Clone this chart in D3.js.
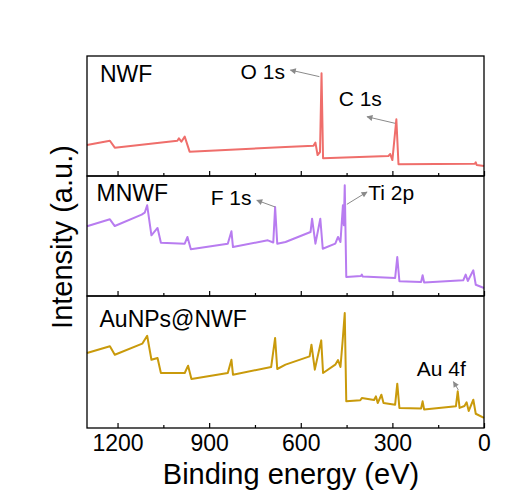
<!DOCTYPE html>
<html>
<head>
<meta charset="utf-8">
<script src="https://cdn.jsdelivr.net/npm/d3@7"></script>
<style>
  body { margin: 0; background: #fff; }
  svg { display: block; font-family: "Liberation Sans", Arial, sans-serif; }
</style>
</head>
<body>
<div id="chart"></div>
<script>
// XPS survey spectra, binding energy (eV) vs intensity (a.u., 0-100 per panel)
const sampleNames = ["NWF", "MNWF", "AuNPs@NWF"];
const sampleColors = ["#ef6e6b", "#b87cf0", "#c99a0b"];
const xTicks = [1200, 900, 600, 300, 0];
const xMinorTicks = [1050, 750, 450, 150];

const energyNWF = [1300,1225,1209,1004,999,991,980,964,650,558,552,545,537,532,527,313,307,300,287,280,30,27,24,0];
const intensityNWF = [25.8,29.4,23.6,29.4,31.4,28.6,32.8,20.3,24.2,25.3,27.8,17.5,20,85.6,14.8,16.7,18.3,13.3,47.3,9.8,10.2,11.4,9.2,8.3];

const energyMNWF = [1300,1225,1209,1121,1111,1103,1089,1069,1058,980,971,960,839,827,822,708,690,684,677,650,568,563,552,536,528,487,478,470,462,459,456,451,403,400,397,291,284,277,206,201,196,68,60,53,35,27,0];
const intensityMNWF = [58.1,63.9,58.3,67.8,69.4,75.6,50.6,56.7,44.4,43.6,49.2,38.9,43.6,53.9,40.8,46.4,44.6,74.2,43.6,45,53.3,64.4,43.6,64.4,39.4,43.6,49.2,45,75.6,59,92.3,15.8,16.7,17.8,16.3,15,32.5,12.3,11.7,17.3,11.3,13.1,17.8,12.5,21.4,9.4,6.7];

const energyAu = [1300,1225,1209,1119,1103,1089,1069,1058,980,969,958,839,827,822,697,684,677,650,571,565,554,533,527,487,478,470,463,456,451,405,400,360,354,348,336,329,291,284,277,206,201,196,92,86,80,64,57,50,35,27,0];
const intensityAu = [56.8,61.9,55.5,63.9,69.9,51.7,53,41.7,41.7,47.2,37.1,41.7,51.7,40.4,46.2,68.2,44.7,48,54.3,63.1,44.2,66.4,41.7,48,51.5,46.2,65.7,87.1,20.2,21,22.7,21.2,24,18.9,25.2,18.9,17.7,33.6,15.2,14.8,20.2,14,16.4,27.8,15.2,16.7,19.5,12.9,21.4,10.8,7.6];

// peak labels: panel, text, text anchor (eV, a.u.), arrow from -> to (eV, a.u.)
const peakLabels = [
  {panel: 0, text: "O 1s",  at: [797, 80.6], from: [539, 82.8], to: [634, 88.3]},
  {panel: 0, text: "C 1s",  at: [476, 58.6], from: [291, 43.9], to: [383, 49.4]},
  {panel: 1, text: "F 1s",  at: [895, 75.8], from: [684, 74.2], to: [744, 79.8]},
  {panel: 1, text: "Ti 2p", at: [379, 80.0], from: [449, 76.4], to: [383, 86.7]},
  {panel: 2, text: "Au 4f", at: [220, 39.4], from: [84, 28.8],  to: [100, 35.1]}
];

const margin = {top: 56, right: 40, bottom: 62, left: 87};
const W = 524, H = 490;
const width = W - margin.left - margin.right;
const panelHeights = [120, 120, 132];
const panelTops = [0, 120, 240];
const labelOffsets = [[13, 26], [9.5, 24.5], [12.5, 30.5]];

function makeSeries(energy, intensity) {
  return energy.map((e, i) => ({e: e, v: intensity[i]}));
}

const series = [
  makeSeries(energyNWF, intensityNWF),
  makeSeries(energyMNWF, intensityMNWF),
  makeSeries(energyAu, intensityAu)
];

const svg = d3.select("#chart").append("svg")
  .attr("width", W)
  .attr("height", H);

svg.append("rect").attr("width", W).attr("height", H).attr("fill", "#fff");

svg.append("defs").append("marker")
  .attr("id", "arrowhead")
  .attr("viewBox", "0 0 10 10")
  .attr("refX", 9).attr("refY", 5)
  .attr("markerWidth", 7).attr("markerHeight", 6)
  .attr("markerUnits", "userSpaceOnUse")
  .attr("orient", "auto")
  .append("path")
  .attr("d", "M0,0 L10,5 L0,10 Z")
  .attr("fill", "#8a8a8a");

const g = svg.append("g").attr("transform", `translate(${margin.left},${margin.top})`);

const x = d3.scaleLinear().domain([1300, 0]).range([0, width]);

series.forEach((data, i) => {
  const ph = panelHeights[i];
  const y = d3.scaleLinear().domain([0, 100]).range([ph, 0]);
  const panel = g.append("g").attr("transform", `translate(0,${panelTops[i]})`);

  const line = d3.line().x(d => x(d.e)).y(d => y(d.v));

  panel.append("path")
    .datum(data)
    .attr("fill", "none")
    .attr("stroke", sampleColors[i])
    .attr("stroke-width", 2)
    .attr("stroke-linejoin", "round")
    .attr("d", line);

  // inward ticks on each panel's bottom edge
  const major = panel.append("g")
    .attr("transform", `translate(0,${ph})`)
    .call(d3.axisBottom(x).tickValues(xTicks).tickSizeInner(-5).tickSizeOuter(0).tickPadding(7)
      .tickFormat(i === 2 ? d3.format("d") : ""));
  major.select(".domain").remove();
  major.selectAll("line").attr("stroke", "#000").attr("stroke-width", 1.2);
  major.selectAll("text").attr("fill", "#000").style("font-size", "23px")
    .style("font-family", '"Liberation Sans", Arial, sans-serif');

  const minor = panel.append("g")
    .attr("transform", `translate(0,${ph})`)
    .call(d3.axisBottom(x).tickValues(xMinorTicks).tickSizeInner(-3).tickSizeOuter(0).tickFormat(""));
  minor.select(".domain").remove();
  minor.selectAll("line").attr("stroke", "#000").attr("stroke-width", 1.2);

  panel.append("rect")
    .attr("width", width)
    .attr("height", ph)
    .attr("fill", "none")
    .attr("stroke", "#000")
    .attr("stroke-width", 1.3);

  panel.append("text")
    .attr("x", labelOffsets[i][0])
    .attr("y", labelOffsets[i][1])
    .style("font-size", "23px")
    .attr("fill", "#000")
    .text(sampleNames[i]);

  peakLabels.filter(p => p.panel === i).forEach(p => {
    panel.append("line")
      .attr("x1", x(p.from[0])).attr("y1", y(p.from[1]))
      .attr("x2", x(p.to[0])).attr("y2", y(p.to[1]))
      .attr("stroke", "#8a8a8a")
      .attr("stroke-width", 1)
      .attr("marker-end", "url(#arrowhead)");
    panel.append("text")
      .attr("x", x(p.at[0]))
      .attr("y", y(p.at[1]))
      .style("font-size", "21px")
      .attr("fill", "#000")
      .text(p.text);
  });
});

svg.append("text")
  .attr("x", 291)
  .attr("y", 484)
  .attr("text-anchor", "middle")
  .style("font-size", "29px")
  .attr("fill", "#000")
  .text("Binding energy (eV)");

svg.append("text")
  .attr("transform", "translate(72,237) rotate(-90)")
  .attr("text-anchor", "middle")
  .style("font-size", "29px")
  .attr("fill", "#000")
  .text("Intensity (a.u.)");
</script>
</body>
</html>
